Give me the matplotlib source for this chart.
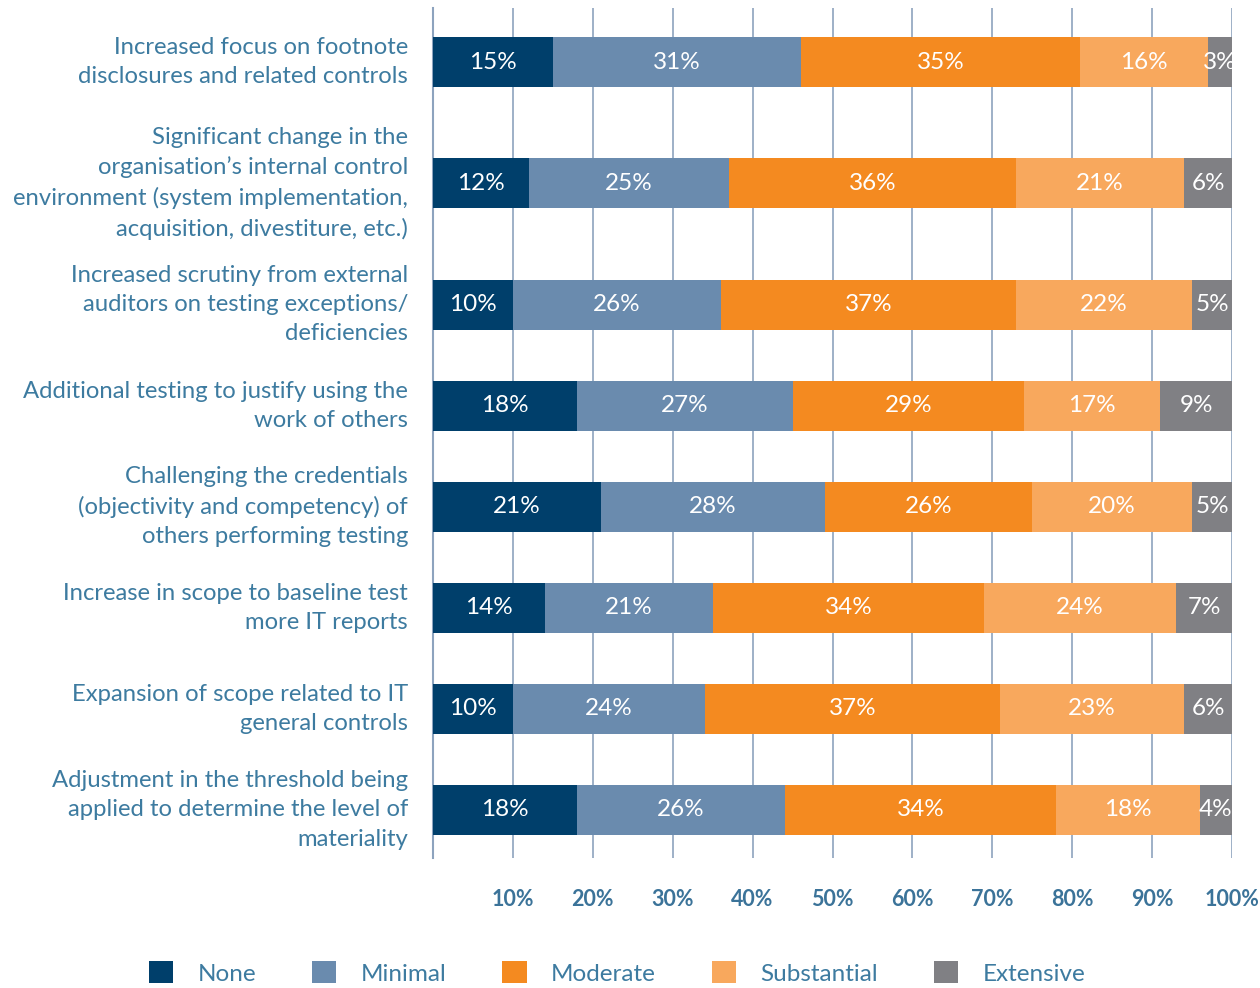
import matplotlib.pyplot as plt
import numpy as np

plt.rcParams['font.family'] = ['Lato', 'DejaVu Sans']

# survey statements (top to bottom)
labels = [
    'Increased focus on footnote\ndisclosures and related controls',
    'Significant change in the\norganisation\u2019s internal control\nenvironment (system implementation,\nacquisition, divestiture, etc.)',
    'Increased scrutiny from external\nauditors on testing exceptions/\ndeficiencies',
    'Additional testing to justify using the\nwork of others',
    'Challenging the credentials\n(objectivity and competency) of\nothers performing testing',
    'Increase in scope to baseline test\nmore IT reports',
    'Expansion of scope related to IT\ngeneral controls',
    'Adjustment in the threshold being\napplied to determine the level of\nmateriality',
]

levels = ['None', 'Minimal', 'Moderate', 'Substantial', 'Extensive']
none_v = [15, 12, 10, 18, 21, 14, 10, 18]
minimal_v = [31, 25, 26, 27, 28, 21, 24, 26]
moderate_v = [35, 36, 37, 29, 26, 34, 37, 34]
substantial_v = [16, 21, 22, 17, 20, 24, 23, 18]
extensive_v = [3, 6, 5, 9, 5, 7, 6, 4]

colors = ['#003F6B', '#6A8BAE', '#F48A20', '#F8A85D', '#808084']
label_col = '#3D7BA0'
tick_col = '#3B7399'
grid_col = '#8DA3BE'

series = [none_v, minimal_v, moderate_v, substantial_v, extensive_v]

# row slots: taller labels get more room
nlines = [l.count('\n') + 1 for l in labels]
slot = [1.4 if n >= 4 else 1.0 for n in nlines]
ypos = [0.0]
for i in range(1, len(labels)):
    ypos.append(ypos[-1] + (slot[i - 1] + slot[i]) / 2)
ypos = np.array(ypos)

fig = plt.figure(figsize=(12.6, 9.88), dpi=100)
ax = fig.add_axes([433 / 1260, 1 - 858 / 988, (1232 - 433) / 1260, 850 / 988])

left = np.zeros(len(labels))
for vals, name, c in zip(series, levels, colors):
    vals = np.array(vals)
    bars = ax.barh(ypos, vals, left=left, height=0.495, color=c, label=name, zorder=3)
    for b, v in zip(bars, vals):
        ax.text(b.get_x() + b.get_width() / 2, b.get_y() + b.get_height() / 2,
                f'{v}%', ha='center', va='center', color='white', fontsize=17.5, zorder=4)
    left += vals

ax.set_xlim(0, 100)
ax.set_ylim(ypos[-1] + 0.475, -0.535)
ax.set_xticks(range(10, 101, 10))
ax.set_xticklabels([f'{t}%' for t in range(10, 101, 10)], fontsize=15.5, fontweight='bold', color=tick_col)
ax.tick_params(axis='x', length=0, pad=22)
ax.set_yticks(ypos)
ax.set_yticklabels(labels, fontsize=17.2, color=label_col, linespacing=1.48)
for t in ax.get_yticklabels():
    t.set_va('center')
ax.tick_params(axis='y', length=0, pad=18)
ax.xaxis.grid(True, color=grid_col, linewidth=1.2, zorder=0)
for s in ['top', 'right', 'bottom']:
    ax.spines[s].set_visible(False)
ax.spines['left'].set_color(grid_col)
ax.spines['left'].set_linewidth(1.5)

leg = fig.legend(loc='center', bbox_to_anchor=(617 / 1260, 15 / 988), ncol=5, frameon=False,
                 prop={'size': 17.5}, handlelength=1.0, handleheight=1.0,
                 handletextpad=1.0, columnspacing=2.3)
for t in leg.get_texts():
    t.set_color(label_col)

fig.savefig('out.png', dpi=100)
